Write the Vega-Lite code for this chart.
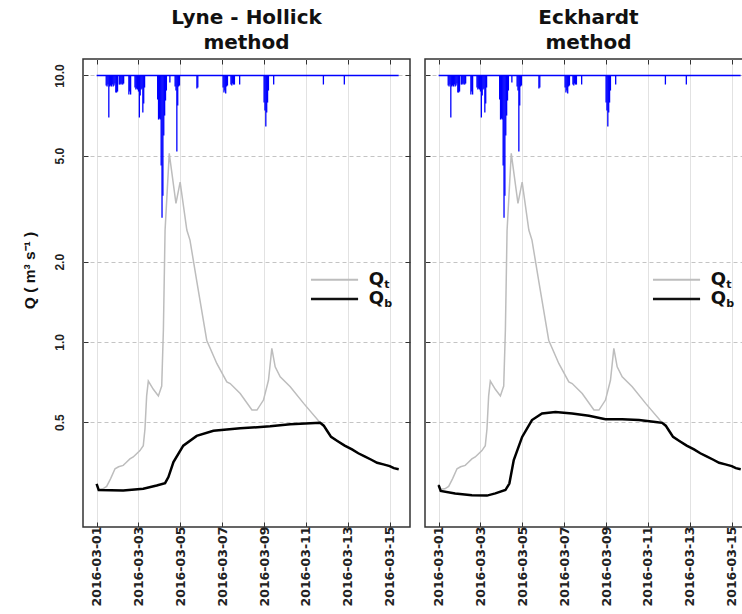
{
  "$schema": "https://vega.github.io/schema/vega-lite/v6.json",
  "background": "white",
  "padding": {"left": 21, "top": 6, "right": 0, "bottom": 0},
  "bounds": "flush",
  "spacing": 15,
  "datasets": {
    "qt": [
      {"t": "2016-03-01T00:00", "Q": 0.293},
      {"t": "2016-03-01T02:24", "Q": 0.280},
      {"t": "2016-03-01T07:12", "Q": 0.281},
      {"t": "2016-03-01T11:31", "Q": 0.287},
      {"t": "2016-03-01T16:05", "Q": 0.307},
      {"t": "2016-03-01T21:07", "Q": 0.334},
      {"t": "2016-03-02T01:12", "Q": 0.340},
      {"t": "2016-03-02T06:29", "Q": 0.344},
      {"t": "2016-03-02T09:36", "Q": 0.352},
      {"t": "2016-03-02T14:10", "Q": 0.364},
      {"t": "2016-03-02T18:00", "Q": 0.370},
      {"t": "2016-03-03T01:41", "Q": 0.391},
      {"t": "2016-03-03T05:31", "Q": 0.408},
      {"t": "2016-03-03T07:26", "Q": 0.471},
      {"t": "2016-03-03T09:22", "Q": 0.627},
      {"t": "2016-03-03T11:17", "Q": 0.713},
      {"t": "2016-03-03T17:02", "Q": 0.664},
      {"t": "2016-03-03T22:48", "Q": 0.627},
      {"t": "2016-03-04T02:38", "Q": 0.683},
      {"t": "2016-03-04T04:34", "Q": 1.11},
      {"t": "2016-03-04T06:29", "Q": 2.62},
      {"t": "2016-03-04T11:17", "Q": 5.10},
      {"t": "2016-03-04T18:58", "Q": 3.31},
      {"t": "2016-03-04T23:46", "Q": 3.98},
      {"t": "2016-03-05T07:26", "Q": 2.63},
      {"t": "2016-03-05T11:02", "Q": 2.41},
      {"t": "2016-03-05T18:43", "Q": 1.70},
      {"t": "2016-03-06T06:14", "Q": 1.015},
      {"t": "2016-03-06T17:46", "Q": 0.830},
      {"t": "2016-03-07T05:17", "Q": 0.708},
      {"t": "2016-03-07T09:07", "Q": 0.698},
      {"t": "2016-03-07T20:38", "Q": 0.640},
      {"t": "2016-03-08T10:05", "Q": 0.555},
      {"t": "2016-03-08T15:50", "Q": 0.555},
      {"t": "2016-03-08T23:17", "Q": 0.605},
      {"t": "2016-03-09T05:02", "Q": 0.718},
      {"t": "2016-03-09T08:53", "Q": 0.946},
      {"t": "2016-03-09T12:43", "Q": 0.806},
      {"t": "2016-03-09T18:29", "Q": 0.740},
      {"t": "2016-03-10T06:00", "Q": 0.679},
      {"t": "2016-03-10T21:22", "Q": 0.588},
      {"t": "2016-03-11T16:19", "Q": 0.497},
      {"t": "2016-03-11T20:24", "Q": 0.485},
      {"t": "2016-03-12T00:00", "Q": 0.465},
      {"t": "2016-03-12T04:48", "Q": 0.440},
      {"t": "2016-03-12T12:00", "Q": 0.425},
      {"t": "2016-03-12T20:24", "Q": 0.408},
      {"t": "2016-03-13T04:48", "Q": 0.395},
      {"t": "2016-03-13T12:00", "Q": 0.382},
      {"t": "2016-03-13T19:12", "Q": 0.372},
      {"t": "2016-03-14T02:24", "Q": 0.362},
      {"t": "2016-03-14T09:36", "Q": 0.352},
      {"t": "2016-03-14T16:48", "Q": 0.347},
      {"t": "2016-03-15T00:00", "Q": 0.342},
      {"t": "2016-03-15T04:48", "Q": 0.336},
      {"t": "2016-03-15T10:19", "Q": 0.333}
    ],
    "qb": [
      {"method": "Lyne - Hollick", "t": "2016-03-01T00:00", "Q": 0.293},
      {"method": "Lyne - Hollick", "t": "2016-03-01T02:24", "Q": 0.278},
      {"method": "Lyne - Hollick", "t": "2016-03-02T06:29", "Q": 0.277},
      {"method": "Lyne - Hollick", "t": "2016-03-03T05:31", "Q": 0.281},
      {"method": "Lyne - Hollick", "t": "2016-03-03T20:53", "Q": 0.289},
      {"method": "Lyne - Hollick", "t": "2016-03-04T06:29", "Q": 0.295},
      {"method": "Lyne - Hollick", "t": "2016-03-04T10:19", "Q": 0.311},
      {"method": "Lyne - Hollick", "t": "2016-03-04T16:05", "Q": 0.354},
      {"method": "Lyne - Hollick", "t": "2016-03-05T03:22", "Q": 0.408},
      {"method": "Lyne - Hollick", "t": "2016-03-05T18:43", "Q": 0.444},
      {"method": "Lyne - Hollick", "t": "2016-03-06T13:55", "Q": 0.464},
      {"method": "Lyne - Hollick", "t": "2016-03-07T20:38", "Q": 0.474},
      {"method": "Lyne - Hollick", "t": "2016-03-09T06:58", "Q": 0.482},
      {"method": "Lyne - Hollick", "t": "2016-03-10T06:00", "Q": 0.491},
      {"method": "Lyne - Hollick", "t": "2016-03-11T16:19", "Q": 0.497},
      {"method": "Lyne - Hollick", "t": "2016-03-11T20:24", "Q": 0.485},
      {"method": "Lyne - Hollick", "t": "2016-03-12T00:00", "Q": 0.465},
      {"method": "Lyne - Hollick", "t": "2016-03-12T04:48", "Q": 0.440},
      {"method": "Lyne - Hollick", "t": "2016-03-12T12:00", "Q": 0.425},
      {"method": "Lyne - Hollick", "t": "2016-03-12T20:24", "Q": 0.408},
      {"method": "Lyne - Hollick", "t": "2016-03-13T04:48", "Q": 0.395},
      {"method": "Lyne - Hollick", "t": "2016-03-13T12:00", "Q": 0.382},
      {"method": "Lyne - Hollick", "t": "2016-03-13T19:12", "Q": 0.372},
      {"method": "Lyne - Hollick", "t": "2016-03-14T02:24", "Q": 0.362},
      {"method": "Lyne - Hollick", "t": "2016-03-14T09:36", "Q": 0.352},
      {"method": "Lyne - Hollick", "t": "2016-03-14T16:48", "Q": 0.347},
      {"method": "Lyne - Hollick", "t": "2016-03-15T00:00", "Q": 0.342},
      {"method": "Lyne - Hollick", "t": "2016-03-15T04:48", "Q": 0.336},
      {"method": "Lyne - Hollick", "t": "2016-03-15T10:19", "Q": 0.333},
      {"method": "Eckhardt", "t": "2016-03-01T00:00", "Q": 0.290},
      {"method": "Eckhardt", "t": "2016-03-01T02:24", "Q": 0.276},
      {"method": "Eckhardt", "t": "2016-03-01T18:58", "Q": 0.270},
      {"method": "Eckhardt", "t": "2016-03-02T14:10", "Q": 0.266},
      {"method": "Eckhardt", "t": "2016-03-03T07:26", "Q": 0.265},
      {"method": "Eckhardt", "t": "2016-03-03T17:02", "Q": 0.270},
      {"method": "Eckhardt", "t": "2016-03-04T04:34", "Q": 0.278},
      {"method": "Eckhardt", "t": "2016-03-04T09:07", "Q": 0.294},
      {"method": "Eckhardt", "t": "2016-03-04T14:10", "Q": 0.360},
      {"method": "Eckhardt", "t": "2016-03-04T23:46", "Q": 0.440},
      {"method": "Eckhardt", "t": "2016-03-05T11:02", "Q": 0.509},
      {"method": "Eckhardt", "t": "2016-03-05T22:34", "Q": 0.539},
      {"method": "Eckhardt", "t": "2016-03-06T13:55", "Q": 0.546},
      {"method": "Eckhardt", "t": "2016-03-07T09:07", "Q": 0.539},
      {"method": "Eckhardt", "t": "2016-03-08T04:19", "Q": 0.528},
      {"method": "Eckhardt", "t": "2016-03-08T23:17", "Q": 0.513},
      {"method": "Eckhardt", "t": "2016-03-09T18:29", "Q": 0.513},
      {"method": "Eckhardt", "t": "2016-03-10T13:41", "Q": 0.509},
      {"method": "Eckhardt", "t": "2016-03-11T08:38", "Q": 0.501},
      {"method": "Eckhardt", "t": "2016-03-11T16:19", "Q": 0.497},
      {"method": "Eckhardt", "t": "2016-03-11T20:24", "Q": 0.485},
      {"method": "Eckhardt", "t": "2016-03-12T00:00", "Q": 0.465},
      {"method": "Eckhardt", "t": "2016-03-12T04:48", "Q": 0.440},
      {"method": "Eckhardt", "t": "2016-03-12T12:00", "Q": 0.425},
      {"method": "Eckhardt", "t": "2016-03-12T20:24", "Q": 0.408},
      {"method": "Eckhardt", "t": "2016-03-13T04:48", "Q": 0.395},
      {"method": "Eckhardt", "t": "2016-03-13T12:00", "Q": 0.382},
      {"method": "Eckhardt", "t": "2016-03-13T19:12", "Q": 0.372},
      {"method": "Eckhardt", "t": "2016-03-14T02:24", "Q": 0.362},
      {"method": "Eckhardt", "t": "2016-03-14T09:36", "Q": 0.352},
      {"method": "Eckhardt", "t": "2016-03-14T16:48", "Q": 0.347},
      {"method": "Eckhardt", "t": "2016-03-15T00:00", "Q": 0.342},
      {"method": "Eckhardt", "t": "2016-03-15T04:48", "Q": 0.336},
      {"method": "Eckhardt", "t": "2016-03-15T10:19", "Q": 0.333}
    ],
    "precip": [
      {"t": "2016-03-01T11:00", "P": 1.0},
      {"t": "2016-03-01T12:00", "P": 1.1},
      {"t": "2016-03-01T13:00", "P": 0.9},
      {"t": "2016-03-01T14:00", "P": 4.2},
      {"t": "2016-03-01T15:00", "P": 1.1},
      {"t": "2016-03-01T16:00", "P": 1.0},
      {"t": "2016-03-01T17:00", "P": 1.1},
      {"t": "2016-03-01T18:00", "P": 0.9},
      {"t": "2016-03-01T19:00", "P": 1.1},
      {"t": "2016-03-01T20:00", "P": 1.0},
      {"t": "2016-03-01T21:00", "P": 0.8},
      {"t": "2016-03-01T22:00", "P": 1.7},
      {"t": "2016-03-01T23:00", "P": 1.7},
      {"t": "2016-03-02T00:00", "P": 1.6},
      {"t": "2016-03-02T02:00", "P": 0.9},
      {"t": "2016-03-02T03:00", "P": 0.9},
      {"t": "2016-03-02T04:00", "P": 0.8},
      {"t": "2016-03-02T05:00", "P": 0.9},
      {"t": "2016-03-02T06:00", "P": 0.9},
      {"t": "2016-03-02T07:00", "P": 0.8},
      {"t": "2016-03-02T13:00", "P": 1.9},
      {"t": "2016-03-02T14:00", "P": 1.6},
      {"t": "2016-03-02T15:00", "P": 1.9},
      {"t": "2016-03-02T20:00", "P": 1.2},
      {"t": "2016-03-02T21:00", "P": 1.4},
      {"t": "2016-03-02T22:00", "P": 1.3},
      {"t": "2016-03-02T23:00", "P": 1.4},
      {"t": "2016-03-03T00:00", "P": 1.6},
      {"t": "2016-03-03T01:00", "P": 4.2},
      {"t": "2016-03-03T02:00", "P": 2.0},
      {"t": "2016-03-03T03:00", "P": 1.4},
      {"t": "2016-03-03T04:00", "P": 1.3},
      {"t": "2016-03-03T05:00", "P": 3.7},
      {"t": "2016-03-03T06:00", "P": 2.8},
      {"t": "2016-03-03T07:00", "P": 1.2},
      {"t": "2016-03-03T22:00", "P": 2.4},
      {"t": "2016-03-03T23:00", "P": 4.4},
      {"t": "2016-03-04T00:00", "P": 4.3},
      {"t": "2016-03-04T01:00", "P": 4.4},
      {"t": "2016-03-04T02:00", "P": 9.0},
      {"t": "2016-03-04T03:00", "P": 14.2},
      {"t": "2016-03-04T04:00", "P": 12.0},
      {"t": "2016-03-04T05:00", "P": 6.0},
      {"t": "2016-03-04T06:00", "P": 4.0},
      {"t": "2016-03-04T07:00", "P": 2.5},
      {"t": "2016-03-04T08:00", "P": 1.5},
      {"t": "2016-03-04T12:00", "P": 0.7},
      {"t": "2016-03-04T18:00", "P": 1.1},
      {"t": "2016-03-04T19:00", "P": 1.5},
      {"t": "2016-03-04T20:00", "P": 7.6},
      {"t": "2016-03-04T21:00", "P": 3.0},
      {"t": "2016-03-04T22:00", "P": 1.1},
      {"t": "2016-03-04T23:00", "P": 1.0},
      {"t": "2016-03-05T19:00", "P": 1.3},
      {"t": "2016-03-05T20:00", "P": 1.2},
      {"t": "2016-03-07T01:00", "P": 1.2},
      {"t": "2016-03-07T02:00", "P": 1.7},
      {"t": "2016-03-07T03:00", "P": 1.5},
      {"t": "2016-03-07T04:00", "P": 1.8},
      {"t": "2016-03-07T05:00", "P": 1.1},
      {"t": "2016-03-07T06:00", "P": 1.0},
      {"t": "2016-03-07T10:00", "P": 0.9},
      {"t": "2016-03-07T11:00", "P": 1.0},
      {"t": "2016-03-07T12:00", "P": 0.8},
      {"t": "2016-03-07T13:00", "P": 0.9},
      {"t": "2016-03-07T14:00", "P": 0.9},
      {"t": "2016-03-07T20:00", "P": 0.9},
      {"t": "2016-03-09T00:00", "P": 2.7},
      {"t": "2016-03-09T01:00", "P": 3.5},
      {"t": "2016-03-09T02:00", "P": 5.1},
      {"t": "2016-03-09T03:00", "P": 3.7},
      {"t": "2016-03-09T04:00", "P": 2.7},
      {"t": "2016-03-09T05:00", "P": 1.5},
      {"t": "2016-03-09T11:00", "P": 0.9},
      {"t": "2016-03-11T20:00", "P": 0.9},
      {"t": "2016-03-12T20:00", "P": 0.9}
    ]
  },
  "hconcat": [
    {
      "width": 327,
      "height": 468,
      "title": {"text": ["Lyne - Hollick", "method"]},
      "resolve": {"scale": {"y": "independent"}, "axis": {"x": "independent", "y": "independent"}},
      "layer": [
        {
          "data": {"name": "qt"},
          "mark": {"type": "line", "color": "#bdbdbd", "strokeWidth": 1.5},
          "encoding": {
            "x": {"field": "t", "type": "temporal",
              "scale": {"domain": [{"year": 2016, "month": 2, "date": 29, "hours": 8, "minutes": 24}, {"year": 2016, "month": 3, "date": 15, "hours": 23, "minutes": 17}], "nice": false},
              "axis": {"orient": "bottom", "title": null, "format": "%Y-%m-%d",
                "values": [{"year": 2016, "month": 3, "date": 1}, {"year": 2016, "month": 3, "date": 3}, {"year": 2016, "month": 3, "date": 5}, {"year": 2016, "month": 3, "date": 7}, {"year": 2016, "month": 3, "date": 9}, {"year": 2016, "month": 3, "date": 11}, {"year": 2016, "month": 3, "date": 13}, {"year": 2016, "month": 3, "date": 15}],
                "labelAngle": -90, "labelAlign": "right", "labelBaseline": "middle", "labelFont": "DejaVu Sans", "labelFontSize": 12.5, "labelPadding": 4,
                "tickSize": -5, "grid": true, "gridColor": "#e2e2e2", "gridWidth": 1}},
            "y": {"field": "Q", "type": "quantitative",
              "scale": {"type": "log", "domain": [0.202, 11.53], "nice": false},
              "axis": {"orient": "left", "values": [0.5, 1, 2, 5, 10], "format": ".1f",
                "labelAngle": -90, "labelAlign": "center", "labelBaseline": "bottom", "labelFontSize": 12, "labelPadding": 22,
                "tickSize": -5, "grid": true, "gridDash": [4, 3], "gridColor": "#c4c4c4",
                "title": "Q ( m³ s⁻¹ )", "titleFontSize": 15.5, "titleFontWeight": "bold", "titleX": -49, "titleY": 211, "titleAngle": -90, "titleAlign": "center", "titleBaseline": "alphabetic"}}
          }
        },
        {
          "data": {"name": "qb"},
          "transform": [{"filter": "datum.method == 'Lyne - Hollick'"}],
          "mark": {"type": "line", "color": "#000000", "strokeWidth": 2.5},
          "encoding": {
            "x": {"field": "t", "type": "temporal",
              "scale": {"domain": [{"year": 2016, "month": 2, "date": 29, "hours": 8, "minutes": 24}, {"year": 2016, "month": 3, "date": 15, "hours": 23, "minutes": 17}], "nice": false},
              "axis": {"orient": "top", "title": null, "labels": false, "grid": false, "tickSize": -5,
                "values": [{"year": 2016, "month": 3, "date": 1}, {"year": 2016, "month": 3, "date": 3}, {"year": 2016, "month": 3, "date": 5}, {"year": 2016, "month": 3, "date": 7}, {"year": 2016, "month": 3, "date": 9}, {"year": 2016, "month": 3, "date": 11}, {"year": 2016, "month": 3, "date": 13}, {"year": 2016, "month": 3, "date": 15}]}},
            "y": {"field": "Q", "type": "quantitative",
              "scale": {"type": "log", "domain": [0.202, 11.53], "nice": false},
              "axis": {"orient": "right", "values": [0.5, 1, 2, 5, 10], "labels": false, "grid": false, "tickSize": -5, "title": null}}
          }
        },
        {
          "layer": [
            {
              "data": {"name": "precip"},
              "mark": {"type": "rule", "color": "#0000ff", "strokeWidth": 1.3},
              "encoding": {
                "x": {"field": "t", "type": "temporal", "axis": null},
                "y": {"field": "P", "type": "quantitative", "scale": {"domain": [-1.65, 45.1], "reverse": true, "nice": false, "zero": false}, "axis": null},
                "y2": {"datum": 0}
              }
            },
            {
              "data": {"values": [{}]},
              "mark": {"type": "rule", "color": "#0000ff", "strokeWidth": 1.5},
              "encoding": {
                "x": {"datum": {"year": 2016, "month": 3, "date": 1}, "type": "temporal", "axis": null},
                "x2": {"datum": {"year": 2016, "month": 3, "date": 15, "hours": 10, "minutes": 19}},
                "y": {"datum": 0, "type": "quantitative", "axis": null}
              }
            }
          ]
        },
        {
          "layer": [
            {
              "data": {"values": [{}]},
              "mark": {"type": "rule", "color": "#bdbdbd", "strokeWidth": 2},
              "encoding": {
                "x": {"datum": {"year": 2016, "month": 3, "date": 11, "hours": 5, "minutes": 46}, "type": "temporal", "axis": null},
                "x2": {"datum": {"year": 2016, "month": 3, "date": 13, "hours": 11, "minutes": 46}},
                "y": {"datum": 1.71, "type": "quantitative", "axis": null}
              }
            },
            {
              "data": {"values": [{}]},
              "mark": {"type": "rule", "color": "#111111", "strokeWidth": 2.5},
              "encoding": {
                "x": {"datum": {"year": 2016, "month": 3, "date": 11, "hours": 5, "minutes": 46}, "type": "temporal", "axis": null},
                "x2": {"datum": {"year": 2016, "month": 3, "date": 13, "hours": 11, "minutes": 46}},
                "y": {"datum": 1.45, "type": "quantitative", "axis": null}
              }
            },
            {
              "data": {"values": [{}]},
              "mark": {"type": "text", "text": "Q", "align": "left", "baseline": "middle", "font": "DejaVu Sans", "fontSize": 18, "fontWeight": "bold", "color": "#111111"},
              "encoding": {
                "x": {"datum": {"year": 2016, "month": 3, "date": 14}, "type": "temporal", "axis": null},
                "y": {"datum": 1.71, "type": "quantitative", "axis": null}
              }
            },
            {
              "data": {"values": [{}]},
              "mark": {"type": "text", "text": "t", "align": "left", "baseline": "middle", "font": "DejaVu Sans", "fontSize": 11, "fontWeight": "bold", "color": "#111111", "dx": 15.5, "dy": 5},
              "encoding": {
                "x": {"datum": {"year": 2016, "month": 3, "date": 14}, "type": "temporal", "axis": null},
                "y": {"datum": 1.71, "type": "quantitative", "axis": null}
              }
            },
            {
              "data": {"values": [{}]},
              "mark": {"type": "text", "text": "Q", "align": "left", "baseline": "middle", "font": "DejaVu Sans", "fontSize": 18, "fontWeight": "bold", "color": "#111111"},
              "encoding": {
                "x": {"datum": {"year": 2016, "month": 3, "date": 14}, "type": "temporal", "axis": null},
                "y": {"datum": 1.45, "type": "quantitative", "axis": null}
              }
            },
            {
              "data": {"values": [{}]},
              "mark": {"type": "text", "text": "b", "align": "left", "baseline": "middle", "font": "DejaVu Sans", "fontSize": 11, "fontWeight": "bold", "color": "#111111", "dx": 15.5, "dy": 5},
              "encoding": {
                "x": {"datum": {"year": 2016, "month": 3, "date": 14}, "type": "temporal", "axis": null},
                "y": {"datum": 1.45, "type": "quantitative", "axis": null}
              }
            }
          ],
          "encoding": {
            "y": {"scale": {"type": "log", "domain": [0.202, 11.53], "nice": false}}
          }
        }
      ]
    },
    {
      "width": 327,
      "height": 468,
      "title": {"text": ["Eckhardt", "method"]},
      "resolve": {"scale": {"y": "independent"}, "axis": {"x": "independent", "y": "independent"}},
      "layer": [
        {
          "data": {"name": "qt"},
          "mark": {"type": "line", "color": "#bdbdbd", "strokeWidth": 1.5},
          "encoding": {
            "x": {"field": "t", "type": "temporal",
              "scale": {"domain": [{"year": 2016, "month": 2, "date": 29, "hours": 8, "minutes": 24}, {"year": 2016, "month": 3, "date": 15, "hours": 23, "minutes": 17}], "nice": false},
              "axis": {"orient": "bottom", "title": null, "format": "%Y-%m-%d",
                "values": [{"year": 2016, "month": 3, "date": 1}, {"year": 2016, "month": 3, "date": 3}, {"year": 2016, "month": 3, "date": 5}, {"year": 2016, "month": 3, "date": 7}, {"year": 2016, "month": 3, "date": 9}, {"year": 2016, "month": 3, "date": 11}, {"year": 2016, "month": 3, "date": 13}, {"year": 2016, "month": 3, "date": 15}],
                "labelAngle": -90, "labelAlign": "right", "labelBaseline": "middle", "labelFont": "DejaVu Sans", "labelFontSize": 12.5, "labelPadding": 4,
                "tickSize": -5, "grid": true, "gridColor": "#e2e2e2", "gridWidth": 1}},
            "y": {"field": "Q", "type": "quantitative",
              "scale": {"type": "log", "domain": [0.202, 11.53], "nice": false},
              "axis": {"orient": "left", "values": [0.5, 1, 2, 5, 10], "labels": false,
                "tickSize": -5, "grid": true, "gridDash": [4, 3], "gridColor": "#c4c4c4", "title": null}}
          }
        },
        {
          "data": {"name": "qb"},
          "transform": [{"filter": "datum.method == 'Eckhardt'"}],
          "mark": {"type": "line", "color": "#000000", "strokeWidth": 2.5},
          "encoding": {
            "x": {"field": "t", "type": "temporal",
              "scale": {"domain": [{"year": 2016, "month": 2, "date": 29, "hours": 8, "minutes": 24}, {"year": 2016, "month": 3, "date": 15, "hours": 23, "minutes": 17}], "nice": false},
              "axis": {"orient": "top", "title": null, "labels": false, "grid": false, "tickSize": -5,
                "values": [{"year": 2016, "month": 3, "date": 1}, {"year": 2016, "month": 3, "date": 3}, {"year": 2016, "month": 3, "date": 5}, {"year": 2016, "month": 3, "date": 7}, {"year": 2016, "month": 3, "date": 9}, {"year": 2016, "month": 3, "date": 11}, {"year": 2016, "month": 3, "date": 13}, {"year": 2016, "month": 3, "date": 15}]}},
            "y": {"field": "Q", "type": "quantitative",
              "scale": {"type": "log", "domain": [0.202, 11.53], "nice": false},
              "axis": {"orient": "right", "values": [0.5, 1, 2, 5, 10], "labels": false, "grid": false, "tickSize": -5, "title": null}}
          }
        },
        {
          "layer": [
            {
              "data": {"name": "precip"},
              "mark": {"type": "rule", "color": "#0000ff", "strokeWidth": 1.3},
              "encoding": {
                "x": {"field": "t", "type": "temporal", "axis": null},
                "y": {"field": "P", "type": "quantitative", "scale": {"domain": [-1.65, 45.1], "reverse": true, "nice": false, "zero": false}, "axis": null},
                "y2": {"datum": 0}
              }
            },
            {
              "data": {"values": [{}]},
              "mark": {"type": "rule", "color": "#0000ff", "strokeWidth": 1.5},
              "encoding": {
                "x": {"datum": {"year": 2016, "month": 3, "date": 1}, "type": "temporal", "axis": null},
                "x2": {"datum": {"year": 2016, "month": 3, "date": 15, "hours": 10, "minutes": 19}},
                "y": {"datum": 0, "type": "quantitative", "axis": null}
              }
            }
          ]
        },
        {
          "layer": [
            {
              "data": {"values": [{}]},
              "mark": {"type": "rule", "color": "#bdbdbd", "strokeWidth": 2},
              "encoding": {
                "x": {"datum": {"year": 2016, "month": 3, "date": 11, "hours": 5, "minutes": 46}, "type": "temporal", "axis": null},
                "x2": {"datum": {"year": 2016, "month": 3, "date": 13, "hours": 11, "minutes": 46}},
                "y": {"datum": 1.71, "type": "quantitative", "axis": null}
              }
            },
            {
              "data": {"values": [{}]},
              "mark": {"type": "rule", "color": "#111111", "strokeWidth": 2.5},
              "encoding": {
                "x": {"datum": {"year": 2016, "month": 3, "date": 11, "hours": 5, "minutes": 46}, "type": "temporal", "axis": null},
                "x2": {"datum": {"year": 2016, "month": 3, "date": 13, "hours": 11, "minutes": 46}},
                "y": {"datum": 1.45, "type": "quantitative", "axis": null}
              }
            },
            {
              "data": {"values": [{}]},
              "mark": {"type": "text", "text": "Q", "align": "left", "baseline": "middle", "font": "DejaVu Sans", "fontSize": 18, "fontWeight": "bold", "color": "#111111"},
              "encoding": {
                "x": {"datum": {"year": 2016, "month": 3, "date": 14}, "type": "temporal", "axis": null},
                "y": {"datum": 1.71, "type": "quantitative", "axis": null}
              }
            },
            {
              "data": {"values": [{}]},
              "mark": {"type": "text", "text": "t", "align": "left", "baseline": "middle", "font": "DejaVu Sans", "fontSize": 11, "fontWeight": "bold", "color": "#111111", "dx": 15.5, "dy": 5},
              "encoding": {
                "x": {"datum": {"year": 2016, "month": 3, "date": 14}, "type": "temporal", "axis": null},
                "y": {"datum": 1.71, "type": "quantitative", "axis": null}
              }
            },
            {
              "data": {"values": [{}]},
              "mark": {"type": "text", "text": "Q", "align": "left", "baseline": "middle", "font": "DejaVu Sans", "fontSize": 18, "fontWeight": "bold", "color": "#111111"},
              "encoding": {
                "x": {"datum": {"year": 2016, "month": 3, "date": 14}, "type": "temporal", "axis": null},
                "y": {"datum": 1.45, "type": "quantitative", "axis": null}
              }
            },
            {
              "data": {"values": [{}]},
              "mark": {"type": "text", "text": "b", "align": "left", "baseline": "middle", "font": "DejaVu Sans", "fontSize": 11, "fontWeight": "bold", "color": "#111111", "dx": 15.5, "dy": 5},
              "encoding": {
                "x": {"datum": {"year": 2016, "month": 3, "date": 14}, "type": "temporal", "axis": null},
                "y": {"datum": 1.45, "type": "quantitative", "axis": null}
              }
            }
          ],
          "encoding": {
            "y": {"scale": {"type": "log", "domain": [0.202, 11.53], "nice": false}}
          }
        }
      ]
    }
  ],
  "config": {
    "font": "Liberation Sans",
    "view": {"stroke": "#333333", "strokeWidth": 1.5},
    "axis": {"domain": false, "labelFont": "Liberation Sans", "labelFontWeight": "bold", "labelColor": "#222222", "tickColor": "#333333", "tickWidth": 1, "titleColor": "#111111", "titleFont": "Liberation Sans"},
    "title": {"font": "DejaVu Sans", "fontSize": 20, "fontWeight": "bold", "lineHeight": 25, "offset": 6, "color": "#111111", "anchor": "middle"}
  }
}
